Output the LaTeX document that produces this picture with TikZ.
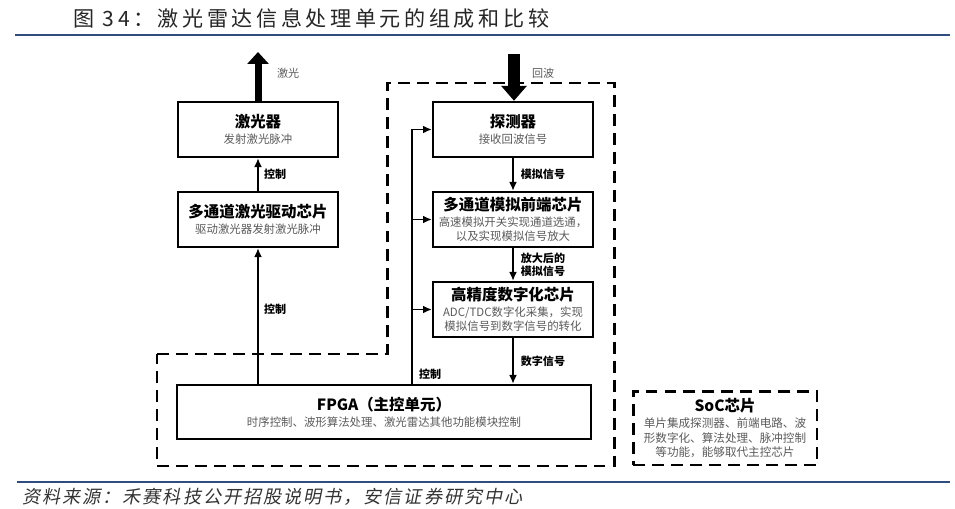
\documentclass[tikz,border=0pt]{standalone}
\usepackage{fontspec}
\setmainfont{Noto Sans CJK SC}
\newfontfamily\hdrfont[LetterSpace=17]{Noto Sans CJK SC}
\newfontfamily\srcfont[FakeSlant=0.2,LetterSpace=11]{Noto Sans CJK SC}
\usetikzlibrary{arrows.meta,positioning,calc}

\definecolor{hdrblue}{HTML}{2F4D7E}
\definecolor{subgray}{HTML}{5A5A5A}

\newcommand{\blktitle}[1]{{\fontsize{8.8}{10.5}\selectfont\bfseries #1}}
\newcommand{\blksub}[1]{{\color{subgray}#1}}

\begin{document}
\begin{tikzpicture}[
  x=0.02cm, y=-0.02cm,
  arr/.style={-{Latex[length=5pt,width=4.5pt]}, line width=0.9pt},
  blk/.style={draw, line width=1.4pt, align=center, font=\fontsize{6.5}{8}\selectfont,
    minimum width=3.2cm, minimum height=1.1cm, inner sep=2pt},
  lbl/.style={font=\fontsize{6.3}{7.6}\selectfont\bfseries, inner sep=1pt, align=left},
  zone/.style={draw, line width=1.7pt, dash pattern=on 6.8pt off 4pt},
  beamup/.style={line width=0.14cm, -{Triangle[width=0.42cm,length=0.24cm]}},
  beamdn/.style={line width=0.24cm, -{Triangle[width=0.5cm,length=0.3cm]}}
]
  \useasboundingbox (0,0) rectangle (955,509);

  % header and footer
  \node[anchor=west, inner sep=0pt, font=\hdrfont\fontsize{12}{14}\selectfont, text=black!85] (hdr) at (73,18)
    {图 34：激光雷达信息处理单元的组成和比较};
  \draw[hdrblue, line width=1.1pt] (15,35) -- (950,35);
  \draw[hdrblue, line width=1.1pt] (17,482) -- (950,482);
  \node[anchor=west, inner sep=0pt, font=\srcfont\fontsize{10.3}{12}\selectfont, text=black!80] (src) at (22,497)
    {资料来源：禾赛科技公开招股说明书，安信证券研究中心};

  % dashed outline of the processing unit
  \draw[zone] (157,354) -- (387,354) -- (387,83) -- (614,83) -- (614,466) -- (157,466) -- cycle;

  % transmit side
  \node[blk] (laser) at (258,129.5) {\blktitle{激光器}\\[1pt]\blksub{发射激光脉冲}};
  \node[blk] (drv) at (258,219.5) {\blktitle{多通道激光驱动芯片}\\[1pt]\blksub{驱动激光器发射激光脉冲}};

  % receive side
  \node[blk] (det) at (513,129.5) {\blktitle{探测器}\\[1pt]\blksub{接收回波信号}};
  \node[blk] (afe) at (513,219.5)
    {\blktitle{多通道模拟前端芯片}\\[1pt]\blksub{高速模拟开关实现通道选通，}\\\blksub{以及实现模拟信号放大}};
  \node[blk] (adc) at (513,309.5)
    {\blktitle{高精度数字化芯片}\\[1pt]\blksub{ADC/TDC数字化采集，实现}\\\blksub{模拟信号到数字信号的转化}};

  \node[blk, minimum width=8.28cm, minimum height=1.08cm] (fpga) at (384,412)
    {\blktitle{FPGA（主控单元）}\\[1pt]\blksub{时序控制、波形算法处理、激光雷达其他功能模块控制}};

  \node[zone, align=center, font=\fontsize{6.6}{8.2}\selectfont, minimum width=3.68cm, minimum height=1.48cm] (soc) at (725,428)
    {\blktitle{SoC芯片}\\[1pt]\blksub{单片集成探测器、前端电路、波}\\\blksub{形数字化、算法处理、脉冲控制}\\\blksub{等功能，能够取代主控芯片}};

  % laser beam out, echo in
  \coordinate (beam) at (258,52);
  \coordinate (echo) at (514,54);
  \draw[beamup] (laser.north) -- (beam);
  \draw[beamdn] (echo) -- (det.north -| echo);
  \node[lbl, font=\fontsize{6.3}{7.6}\selectfont, text=subgray, anchor=west] (beamlbl) at (275,73) {激光};
  \node[lbl, font=\fontsize{6.3}{7.6}\selectfont, text=subgray, anchor=west] (echolbl) at (530,73) {回波};

  % control path to the laser
  \draw[arr] (drv) -- node[lbl, right, xshift=2pt] {控制} (laser);
  \draw[arr] (fpga.north -| drv) -- node[lbl, right, xshift=2pt, pos=0.55] {控制} (drv);

  % signal chain
  \draw[arr] (det) -- node[lbl, right, xshift=3pt] {模拟信号} (afe);
  \draw[arr] (afe) -- node[lbl, right, xshift=3pt] {放大后的\\模拟信号} (adc);
  \draw[arr] (adc) -- node[lbl, right, xshift=3pt] {数字信号} (fpga.north -| adc);

  % control bus from FPGA
  \coordinate (busx) at (412,0);
  \draw[line width=0.9pt] (fpga.north -| busx) -- (det.west -| busx);
  \draw[arr] (det.west -| busx) -- (det.west);
  \draw[arr] (afe.west -| busx) -- (afe.west);
  \draw[arr] (adc.west -| busx) -- (adc.west);
  \node[lbl, anchor=west] (buslbl) at (417,374) {控制};
\end{tikzpicture}
\end{document}
